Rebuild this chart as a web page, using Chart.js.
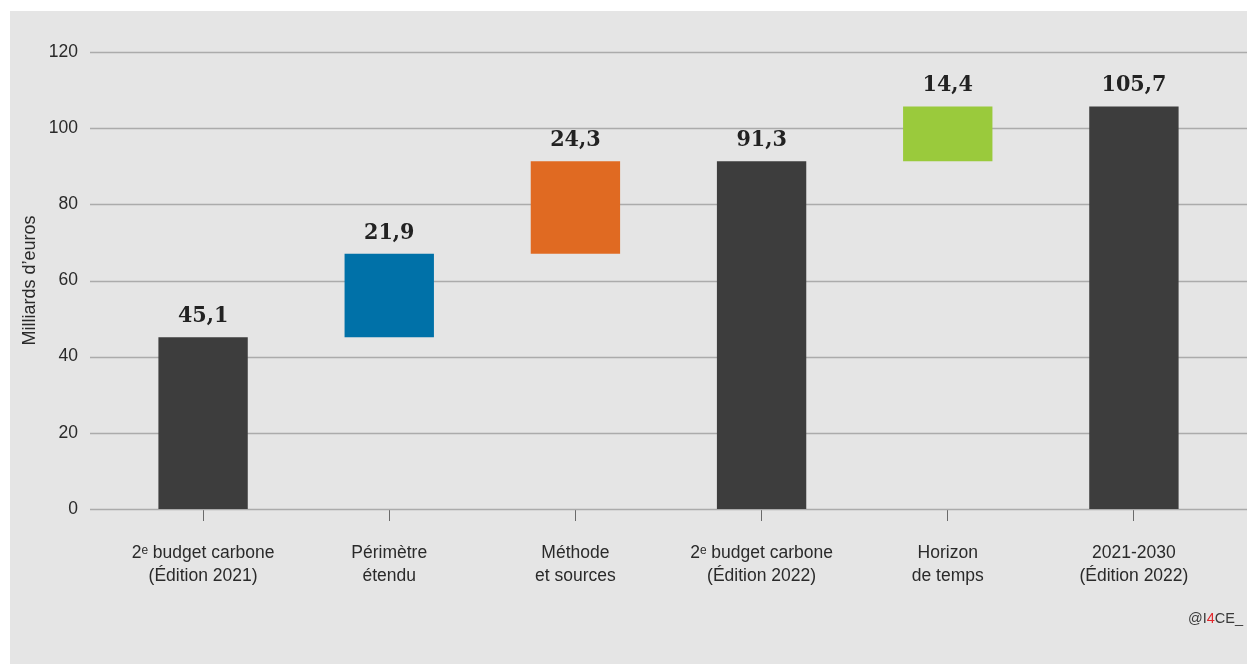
<!DOCTYPE html>
<html lang="fr">
<head>
<meta charset="utf-8">
<script src="https://cdn.jsdelivr.net/npm/chart.js@4.4.1/dist/chart.umd.min.js"></script>
<style>
  html, body { margin: 0; padding: 0; background: #ffffff; }
  #wrap { position: relative; width: 1247px; height: 664px; overflow: hidden; }
  #panel { position: absolute; left: 10px; top: 11px; right: 0; bottom: 0; background: #e5e5e5; }
  #chart { position: absolute; left: 0; top: 0; }
  #credit { position: absolute; right: 4px; top: 610px; font: 14.5px "Liberation Sans", Arial, sans-serif; color: #3a3a3a; }
  #credit .four { color: #e3262b; }
</style>
</head>
<body>
<div id="wrap">
  <div id="panel"></div>
  <canvas id="chart" width="1247" height="664"></canvas>
  <div id="credit">@I<span class="four">4</span>CE_</div>
</div>
<script>
// Étapes du passage entre les deux estimations (milliards d'euros)
const categories = [
  ["2\u1d49 budget carbone", "(Édition 2021)"],
  ["Périmètre", "étendu"],
  ["Méthode", "et sources"],
  ["2\u1d49 budget carbone", "(Édition 2022)"],
  ["Horizon", "de temps"],
  ["2021-2030", "(Édition 2022)"]
];
// Valeur affichée au-dessus de chaque barre
const values = [45.1, 21.9, 24.3, 91.3, 14.4, 105.7];
// "total" : barre partant de zéro ; "delta" : variation empilée sur le cumul
const kinds = ["total", "delta", "delta", "total", "delta", "total"];
const colors = ["#3d3d3d", "#0071a8", "#e06a22", "#3d3d3d", "#9aca3c", "#3d3d3d"];
const yTicks = [0, 20, 40, 60, 80, 100, 120];

// Intervalles flottants [début, fin] construits à partir du cumul
const ranges = [];
let running = 0;
values.forEach((v, i) => {
  if (kinds[i] === "total") {
    running = v;
    ranges.push([0, v]);
  } else {
    const start = running;
    running = Math.round((running + v) * 10) / 10;
    ranges.push([start, running]);
  }
});

const fmt = v => v.toFixed(1).replace(".", ",");

// Lignes horizontales débordant un peu de la zone de tracé
const gridPlugin = {
  id: "gridLines",
  beforeDatasetsDraw(chart) {
    const { ctx, scales: { y } } = chart;
    ctx.save();
    ctx.strokeStyle = "#ababab";
    ctx.lineWidth = 1.3;
    yTicks.forEach(t => {
      const py = Math.round(y.getPixelForValue(t)) + 0.5;
      ctx.beginPath();
      ctx.moveTo(90, py);
      ctx.lineTo(chart.width, py);
      ctx.stroke();
    });
    ctx.restore();
  }
};

// Étiquettes de valeur au-dessus des barres
const labelPlugin = {
  id: "valueLabels",
  afterDatasetsDraw(chart) {
    const { ctx } = chart;
    const meta = chart.getDatasetMeta(0);
    ctx.save();
    ctx.font = 'bold 23px "DejaVu Serif Condensed", "DejaVu Serif", serif';
    ctx.fillStyle = "#222222";
    ctx.textAlign = "center";
    ctx.textBaseline = "alphabetic";
    meta.data.forEach((bar, i) => {
      const top = Math.min(bar.y, bar.base);
      ctx.fillText(fmt(values[i]), bar.x, top - 15);
    });
    ctx.restore();
  }
};

new Chart(document.getElementById("chart"), {
  type: "bar",
  data: {
    labels: categories,
    datasets: [{
      data: ranges,
      backgroundColor: colors,
      borderWidth: 0,
      barPercentage: 0.48,
      categoryPercentage: 1.0
    }]
  },
  options: {
    responsive: false,
    animation: false,
    layout: { padding: { left: 10, right: 20, top: 52, bottom: 0 } },
    plugins: { legend: { display: false }, tooltip: { enabled: false } },
    scales: {
      x: {
        grid: {
          display: true,
          offset: false,
          drawOnChartArea: false,
          drawTicks: true,
          tickLength: 12,
          color: "#6a6a6a",
          lineWidth: 1
        },
        border: { display: false },
        ticks: {
          color: "#2a2a2a",
          padding: 21,
          maxRotation: 0,
          autoSkip: false,
          font: { family: '"Liberation Sans", Arial, sans-serif', size: 17.5, lineHeight: 1.3 }
        },
        afterFit(scale) { scale.height = 155; }
      },
      y: {
        min: 0,
        max: 120,
        afterBuildTicks(scale) { scale.ticks = yTicks.map(v => ({ value: v })); },
        grid: { display: false, drawTicks: false },
        border: { display: false },
        ticks: {
          color: "#2a2a2a",
          padding: 32,
          font: { family: '"Liberation Sans", Arial, sans-serif', size: 17.5 }
        },
        title: {
          display: true,
          text: "Milliards d\u2019euros",
          color: "#2a2a2a",
          padding: { top: 9, bottom: 0 },
          font: { family: '"Liberation Sans", Arial, sans-serif', size: 18 }
        },
        afterFit(scale) { scale.width = 100; }
      }
    }
  },
  plugins: [gridPlugin, labelPlugin]
});
</script>
</body>
</html>
